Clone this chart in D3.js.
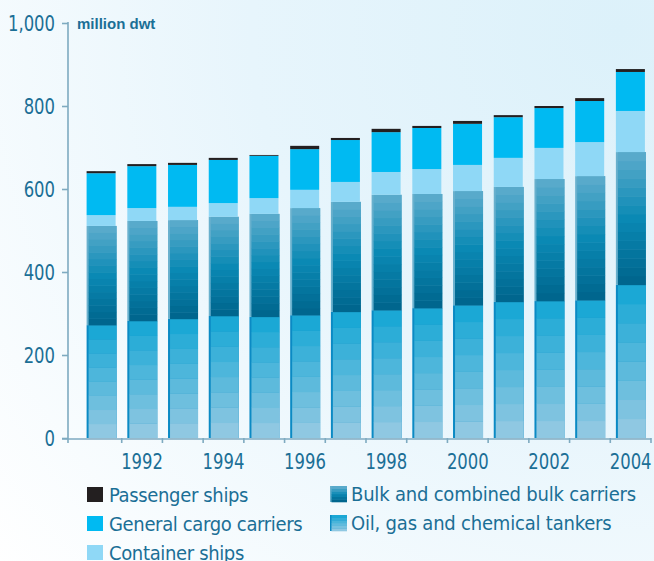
<!DOCTYPE html>
<html>
<head>
<meta charset="utf-8">
<script src="https://cdn.jsdelivr.net/npm/d3@7/dist/d3.min.js"></script>
<style>
  html, body { margin: 0; padding: 0; background: #ffffff; }
  svg { display: block; }
</style>
</head>
<body>
<svg id="chart" width="654" height="561"></svg>
<script>
// World fleet by ship type, million dwt
const years = [1991, 1992, 1993, 1994, 1995, 1996, 1997, 1998, 1999, 2000, 2001, 2002, 2003, 2004];
const tankers      = [272, 282, 287, 294, 292, 296, 304, 308, 313, 320, 328, 330, 332, 369];
const bulkCarriers = [239, 241, 238, 239, 248, 258, 265, 278, 275, 275, 277, 294, 299, 320];
const containerShips = [26, 31, 32, 33, 38, 44, 48, 55, 60, 63, 70, 75, 82, 99];
const generalCargo = [101, 101, 101, 104, 102, 98, 101, 96, 99, 99, 98, 96, 99, 94];
const passengerShips = [5, 5, 5, 5, 2, 8, 5, 8, 5, 7, 5, 5, 7, 7];

const yTicks = [0, 200, 400, 600, 800, 1000];
const yearLabels = [1992, 1994, 1996, 1998, 2000, 2002, 2004];
const unitLabel = "million dwt";

const legendLeft = ["Passenger ships", "General cargo carriers", "Container ships"];
const legendRight = ["Bulk and combined bulk carriers", "Oil, gas and chemical tankers"];

const keys = ["tankers", "bulk", "container", "general", "passenger"];
const rows = years.map((yr, i) => ({
  year: yr,
  tankers: tankers[i],
  bulk: bulkCarriers[i],
  container: containerShips[i],
  general: generalCargo[i],
  passenger: passengerShips[i]
}));

const textColor = "#1b6f96";
const axisColor = "#7eaac0";
const narrowFont = "'Liberation Sans Narrow', 'DejaVu Sans Condensed', sans-serif";
const squeeze = 0.87;   // horizontal compression for the condensed tick figures
const solidFill = { container: "#8fd8f6", general: "#00baf2", passenger: "#231f20" };
const tankerRamp = d3.interpolateRgb("#8fc8e2", "#1ba8d5");                                   // bottom -> top
const bulkRamp = d3.piecewise(d3.interpolateRgb, ["#00668e", "#0a89b4", "#58aacb"]);          // bottom -> top
const tankerSteps = 8, bulkSteps = 15;

const svg = d3.select("#chart");
const W = 654, H = 561;

// background wash
const defs = svg.append("defs");
const bg = defs.append("radialGradient").attr("id", "bg")
  .attr("gradientUnits", "userSpaceOnUse")
  .attr("cx", 620).attr("cy", 30).attr("r", 820);
bg.append("stop").attr("offset", 0).attr("stop-color", "#dcf1fa");
bg.append("stop").attr("offset", 0.45).attr("stop-color", "#e7f5fc");
bg.append("stop").attr("offset", 1).attr("stop-color", "#ffffff");
svg.append("rect").attr("width", W).attr("height", H).attr("fill", "url(#bg)");

const x = d3.scaleBand().domain(years).range([81, 651]).paddingInner(0.275).paddingOuter(0.1375);
const y = d3.scaleLinear().domain([0, 1000]).range([438, 23]);

const stacked = d3.stack().keys(keys)(rows);

// bars
const g = svg.append("g");
stacked.forEach(layer => {
  const key = layer.key;
  layer.forEach(seg => {
    const yr = seg.data.year;
    const x0 = x(yr), bw = x.bandwidth();
    const v0 = seg[0], v1 = seg[1];
    if (key === "tankers" || key === "bulk") {
      const steps = key === "tankers" ? tankerSteps : bulkSteps;
      const ramp = key === "tankers" ? tankerRamp : bulkRamp;
      // edge underlay
      g.append("rect")
        .attr("x", x0).attr("y", y(v1))
        .attr("width", bw + 0.5).attr("height", y(v0) - y(v1))
        .attr("fill", key === "tankers" ? "#0b8ac4" : "#68b0cd");
      for (let s = 0; s < steps; s++) {
        const a = v0 + (v1 - v0) * s / steps;
        const b = v0 + (v1 - v0) * (s + 1) / steps;
        g.append("rect")
          .attr("x", x0 + 2).attr("y", y(b))
          .attr("width", bw - 1.5).attr("height", y(a) - y(b) + 0.3)
          .attr("fill", ramp(steps === 1 ? 0 : s / (steps - 1)));
      }
    } else {
      g.append("rect")
        .attr("x", x0).attr("y", y(v1))
        .attr("width", bw - 0.5).attr("height", Math.max(0, y(v0) - y(v1)))
        .attr("fill", solidFill[key]);
    }
  });
});

// y axis
const yAxis = svg.append("g").attr("transform", "translate(68,0)")
  .call(d3.axisLeft(y).tickValues(yTicks).tickSize(6).tickPadding(6).tickFormat(d3.format(",")));
yAxis.select(".domain").remove();
yAxis.selectAll(".tick line").attr("stroke", axisColor).attr("stroke-width", 1.6);
yAxis.selectAll(".tick text")
  .attr("fill", textColor)
  .attr("font-family", narrowFont)
  .attr("font-size", 21)
  .attr("x", -13 / squeeze)
  .attr("transform", `scale(${squeeze},1)`)
  .attr("dy", "0.34em");
svg.append("line")
  .attr("x1", 68).attr("x2", 68).attr("y1", y(1000) - 1).attr("y2", 443)
  .attr("stroke", axisColor).attr("stroke-width", 1.6);

// x axis
svg.append("line")
  .attr("x1", 62).attr("x2", x.range()[1]).attr("y1", 439).attr("y2", 439)
  .attr("stroke", axisColor).attr("stroke-width", 1.6);
const gap = x.step() - x.bandwidth();
svg.append("g").selectAll("line.sep")
  .data(years)
  .join("line")
  .attr("x1", d => x(d) + x.bandwidth() + gap / 2)
  .attr("x2", d => x(d) + x.bandwidth() + gap / 2)
  .attr("y1", 438).attr("y2", 443)
  .attr("stroke", axisColor).attr("stroke-width", 1.6);

const xAxis = svg.append("g").attr("transform", "translate(0,439)")
  .call(d3.axisBottom(x).tickValues(yearLabels).tickSize(0).tickPadding(0));
xAxis.select(".domain").remove();
xAxis.selectAll(".tick text")
  .attr("fill", textColor)
  .attr("font-family", narrowFont)
  .attr("font-size", 21)
  .attr("transform", `scale(${squeeze},1)`)
  .attr("y", 30).attr("dy", 0);

// unit label
svg.append("text")
  .attr("x", 77).attr("y", 29)
  .attr("fill", textColor)
  .attr("font-family", "'Liberation Sans', Arial, sans-serif")
  .attr("font-weight", "bold")
  .attr("font-size", 15)
  .text(unitLabel);

// legend
const leftFills = [solidFill.passenger, solidFill.general, solidFill.container];
legendLeft.forEach((name, i) => {
  const top = 487 + i * 29;
  svg.append("rect").attr("x", 87).attr("y", top).attr("width", 16).attr("height", 15).attr("fill", leftFills[i]);
  svg.append("text").attr("x", 109).attr("y", top + 15)
    .attr("fill", textColor).attr("font-family", narrowFont).attr("font-size", 20)
    .attr("letter-spacing", -0.35).text(name);
});
const swatchRamp = [bulkRamp, tankerRamp];
legendRight.forEach((name, i) => {
  const top = 486 + i * 29;
  const n = 6;
  svg.append("rect").attr("x", 330).attr("y", top).attr("width", 17).attr("height", 16)
    .attr("fill", i === 0 ? "#68b0cd" : "#0b8ac4");
  for (let s = 0; s < n; s++) {
    svg.append("rect").attr("x", 331.5).attr("y", top + 16 - (s + 1) * 16 / n)
      .attr("width", 15.5).attr("height", 16 / n + 0.3)
      .attr("fill", swatchRamp[i](s / (n - 1)));
  }
  svg.append("text").attr("x", 351).attr("y", top + 15)
    .attr("fill", textColor).attr("font-family", narrowFont).attr("font-size", 20)
    .attr("letter-spacing", -0.2).text(name);
});
</script>
</body>
</html>
